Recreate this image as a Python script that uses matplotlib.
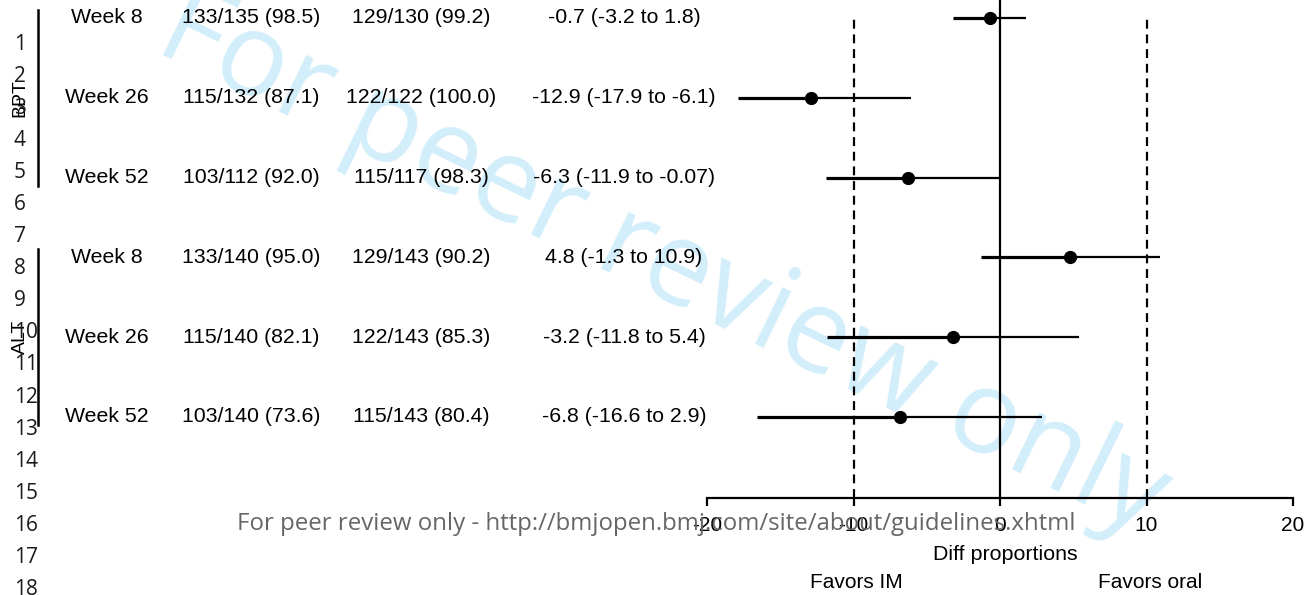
import matplotlib.pyplot as plt
from matplotlib.transforms import blended_transform_factory

# forest plot data (difference in proportions, 95% CI)
groups = ["BPT", "ALT"]
weeks = ["Week 8", "Week 26", "Week 52"]
im_counts = ["133/135 (98.5)", "115/132 (87.1)", "103/112 (92.0)",
             "133/140 (95.0)", "115/140 (82.1)", "103/140 (73.6)"]
oral_counts = ["129/130 (99.2)", "122/122 (100.0)", "115/117 (98.3)",
               "129/143 (90.2)", "122/143 (85.3)", "115/143 (80.4)"]
diff = [-0.7, -12.9, -6.3, 4.8, -3.2, -6.8]
ci_low = [-3.2, -17.9, -11.9, -1.3, -11.8, -16.6]
ci_high = [1.8, -6.1, -0.07, 10.9, 5.4, 2.9]
diff_labels = ["-0.7 (-3.2 to 1.8)", "-12.9 (-17.9 to -6.1)", "-6.3 (-11.9 to -0.07)",
               "4.8 (-1.3 to 10.9)", "-3.2 (-11.8 to 5.4)", "-6.8 (-16.6 to 2.9)"]
xticks = [-20, -10, 0, 10, 20]
line_numbers = list(range(1, 19))

W, H = 1310, 595
fig = plt.figure(figsize=(W / 100, H / 100), dpi=100)
fig.patch.set_facecolor("white")

ax = fig.add_axes([707 / W, (H - 498) / H, (1293 - 707) / W, 498 / H])
ax.set_facecolor("none")
ax.set_xlim(-20, 20)
ax.set_ylim(-0.015, 6.225)

ypos = [6, 5, 4, 3, 2, 1]

# reference lines
ax.vlines(0, -0.015, 6.225, color="black", lw=1.6, zorder=2)
ax.vlines([-10, 10], -0.015, 6.05, color="black", lw=1.6,
          linestyles=(0, (4, 2.6)), zorder=2)

# confidence intervals and point estimates
for y, d, lo, hi in zip(ypos, diff, ci_low, ci_high):
    ax.hlines(y, lo, d, color="black", lw=2.3, zorder=3)
    ax.hlines(y, d, hi, color="black", lw=1.6, zorder=3)
    ax.plot(d, y, "o", color="black", ms=8.5, zorder=4)

for s in ["left", "top", "right"]:
    ax.spines[s].set_visible(False)
ax.spines["bottom"].set_linewidth(1.6)
ax.set_yticks([])
ax.set_xticks(xticks)
ax.set_xticklabels([str(t) for t in xticks], fontsize=15, family="Liberation Sans")
ax.tick_params(axis="x", direction="out", length=6, width=1.6, pad=7)

# table columns
tr = blended_transform_factory(fig.transFigure, ax.transData)
txt = dict(fontsize=15.3, family="Liberation Sans", ha="center", va="center",
           transform=tr, clip_on=False)
for i, y in enumerate(ypos):
    ax.text(107 / W, y, weeks[i % 3], **txt)
    ax.text(251 / W, y, im_counts[i], **txt)
    ax.text(421 / W, y, oral_counts[i], **txt)
    ax.text(624 / W, y, diff_labels[i], **txt)

# group brackets
for g, (top, bottom) in zip(groups, [(6.1, 3.9), (3.1, 0.9)]):
    ax.plot([38 / W, 38 / W], [bottom, top], color="black", lw=1.8,
            transform=tr, clip_on=False)
    ax.text(20 / W, (top + bottom) / 2, g, rotation=90, fontsize=14,
            family="Liberation Sans", ha="center", va="center",
            transform=tr, clip_on=False)

fig.text(1005 / W, 1 - 555 / H, "Diff proportions", fontsize=15.4,
         family="Liberation Sans", ha="center", va="center")
fig.text(856 / W, 1 - 583 / H, "Favors IM", fontsize=15,
         family="Liberation Sans", ha="center", va="center")
fig.text(1150 / W, 1 - 583 / H, "Favors oral", fontsize=15,
         family="Liberation Sans", ha="center", va="center")

# line numbers down the margin
for n in line_numbers:
    fig.text(14 / W, 1 - (44 + (n - 1) * 32.1) / H, str(n), fontsize=15,
             family="Open Sans", ha="left", va="center", color="#1a1a1a")

fig.text(237 / W, 1 - 524 / H,
         "For peer review only - http://bmjopen.bmj.com/site/about/guidelines.xhtml",
         fontsize=17.3, family="Open Sans", color="#666666", ha="left", va="center")

# watermark
fig.text(152 / W, 1 - 50 / H, "For peer review only", fontsize=84,
         family="Open Sans", color="#d3eefb", rotation=-26,
         rotation_mode="anchor", ha="left", va="baseline", zorder=-1)

fig.savefig("out.png", dpi=100)
